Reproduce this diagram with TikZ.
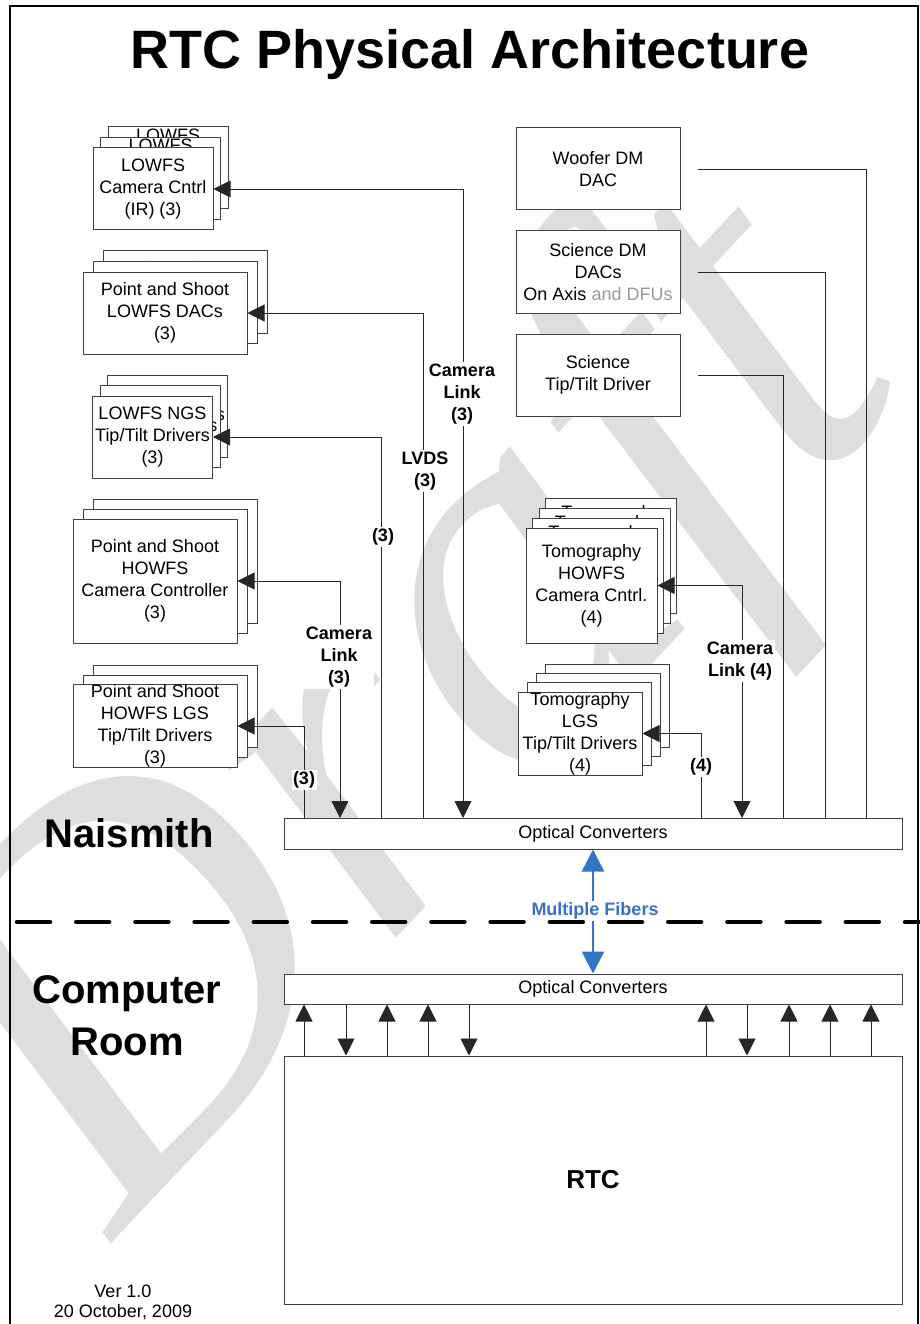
\documentclass[tikz,border=0pt]{standalone}
\usepackage{fontspec}
\setmainfont{Liberation Sans}
\newfontfamily\draftfont{Liberation Serif}
\usetikzlibrary{positioning,arrows.meta}

\definecolor{fiberblue}{RGB}{52,115,198}
\definecolor{draftgray}{RGB}{222,222,222}

\begin{document}
\begin{tikzpicture}[x=1pt, y=-1pt, >={Triangle[length=17pt,width=17pt]},
    every node/.style={font=\fontsize{18}{22}\selectfont},
    unitbox/.style={draw=black!75, line width=1pt, fill=white, align=center, inner sep=0pt},
    lab/.style={fill=white, align=center, inner sep=1.5pt, font=\bfseries\fontsize{18}{22}\selectfont},
    wire/.style={draw=black!85, line width=0.9pt},
    bigtext/.style={font=\bfseries\fontsize{40}{52}\selectfont, align=center}]

  \useasboundingbox (0,0) rectangle (919,1324);

  % watermark
  \node[rotate=47, anchor=base west, inner sep=0pt, text=draftgray,
        font=\draftfont\itshape\fontsize{540}{540}\selectfont] (draft) at (115,1240) {Draft};

  % frame and title
  \draw[line width=2pt] (10,1330) -- (10,6) -- (918,6) -- (918,1330);
  \node[font=\bfseries\fontsize{54}{60}\selectfont, anchor=base] (title) at (470,69) {RTC Physical Architecture};

  % left column (copies behind each front box)
  \foreach \k in {2,1}
    \node[unitbox, minimum width=120pt, minimum height=82pt] (lcam\k) at (153+7.5*\k, 189-10.5*\k) {LOWFS\\Camera Cntrl\\(IR) (3)\\\mbox{}};
  \node[unitbox, minimum width=120pt, minimum height=82pt] (lcam0) at (153,189) {LOWFS\\Camera Cntrl\\(IR) (3)};

  \foreach \k in {2,1,0}
    \node[unitbox, minimum width=164pt, minimum height=82pt] (ldac\k) at (165+10*\k, 313-10.5*\k) {Point and Shoot\\LOWFS DACs\\(3)};

  \foreach \k in {2,1}
    \node[unitbox, minimum width=120pt, minimum height=82pt] (lngs\k) at (152.5+7.5*\k, 437-10.5*\k) {Tip/Tilt Drivers};
  \node[unitbox, minimum width=120pt, minimum height=82pt] (lngs0) at (152.5,437) {LOWFS NGS\\Tip/Tilt Drivers\\(3)};

  \foreach \k in {2,1,0}
    \node[unitbox, minimum width=164pt, minimum height=124pt] (hcam\k) at (155+10*\k, 581-10*\k) {Point and Shoot\\HOWFS\\Camera Controller\\(3)};

  \foreach \k in {2,1}
    \node[unitbox, minimum width=164pt, minimum height=82pt] (hlgs\k) at (155+10*\k, 726-10*\k) {};
  \node[unitbox, minimum width=164pt, minimum height=82pt] (hlgs0) at (155,726) {Point and Shoot\\HOWFS LGS\\Tip/Tilt Drivers\\(3)};

  % right column
  \node[unitbox, minimum width=164pt, minimum height=82pt] (woofer) at (598,169) {Woofer DM\\DAC};
  \node[unitbox, minimum width=164pt, minimum height=82pt] (scidm) at (598,272) {Science DM\\DACs\\On Axis \textcolor{black!40}{and DFUs}};
  \node[unitbox, minimum width=164pt, minimum height=82pt] (scitt) at (598,375) {Science\\Tip/Tilt Driver};

  \foreach \k in {3,2,1}
    \node[unitbox, minimum width=131pt, minimum height=115pt] (tcam\k) at (591.5+6.5*\k, 585.5-9.7*\k) {Tomography\\HOWFS\\Camera Cntrl.\\(4)\\\mbox{}};
  \node[unitbox, minimum width=131pt, minimum height=115pt] (tcam0) at (591.5,585.5) {Tomography\\HOWFS\\Camera Cntrl.\\(4)};

  \foreach \k in {3,2,1}
    \node[unitbox, minimum width=124pt, minimum height=83pt] (tlgs\k) at (580+9*\k, 733.5-9.3*\k) {};
  \node[unitbox, minimum width=124pt, minimum height=83pt] (tlgs0) at (580,733.5) {Tomography\\LGS\\Tip/Tilt Drivers\\(4)};

  % converters and RTC
  \node[unitbox, minimum width=618pt, minimum height=31pt] (ocn) at (593,833.5) {Optical Converters};
  \node[unitbox, minimum width=618pt, minimum height=30pt] (ocs) at (593,989) {Optical Converters};
  \node[unitbox, minimum width=618pt, minimum height=248pt, font=\bfseries\fontsize{26}{30}\selectfont] (rtc) at (593,1180) {RTC};

  \foreach \n/\x in {a/304, b/340, c/381, d/423, e/463, f/701, g/742, h/783, i/825, j/866}
    \coordinate (in\n) at (\x,818);

  \draw[wire,<->] (lcam0.east) -| (ine);
  \draw[wire,<-] (ldac0.east) -| (ind);
  \draw[wire,<-] (lngs0.east) -| (inc);
  \draw[wire,<->] (hcam0.east) -| (inb);
  \draw[wire,<-] (hlgs0.east) -| (ina);
  \draw[wire,<->] (tcam0.east) -| (ing);
  \draw[wire,<-] (tlgs0.east) -| (inf);
  \draw[wire] ([xshift=17pt]woofer.east) -| (inj);
  \draw[wire] ([xshift=17pt]scidm.east) -| (ini);
  \draw[wire] ([xshift=17pt]scitt.east) -| (inh);

  \node[lab] (cl1) at (462,394) {Camera\\Link\\(3)};
  \node[lab] (lvds) at (425,471) {LVDS\\(3)};
  \node[lab] (n3a) at (383,537) {(3)};
  \node[lab] (cl2) at (339,657) {Camera\\Link\\(3)};
  \node[lab] (n3b) at (304,780) {(3)};
  \node[lab] (cl3) at (740,661) {Camera\\Link (4)};
  \node[lab] (n4) at (701,767) {(4)};

  \foreach \x in {304,387,428,706,789,830,871}
    \draw[wire,->] (rtc.north -| \x,0) -- (ocs.south -| \x,0);
  \foreach \x in {346,469,747}
    \draw[wire,->] (ocs.south -| \x,0) -- (rtc.north -| \x,0);

  % fibers between the two rooms
  \draw[line width=2.5pt, fiberblue, <->, >={Triangle[length=22pt,width=22pt]}] (ocn.south) -- (ocs.north);
  \node[lab, text=fiberblue] (fib) at (595,911) {Multiple Fibers};
  \draw[line width=4.5pt, dash pattern=on 33pt off 26.2pt, line cap=round] (17,922) -- (919,922);

  \node[bigtext, anchor=base] (nai) at (129,847) {Naismith};
  \node[bigtext] (comp) at (127,1016) {Computer\\Room};
  \node[font=\fontsize{18}{20}\selectfont, align=center] (ver) at (123,1302) {Ver 1.0\\20 October, 2009};
\end{tikzpicture}
\end{document}
